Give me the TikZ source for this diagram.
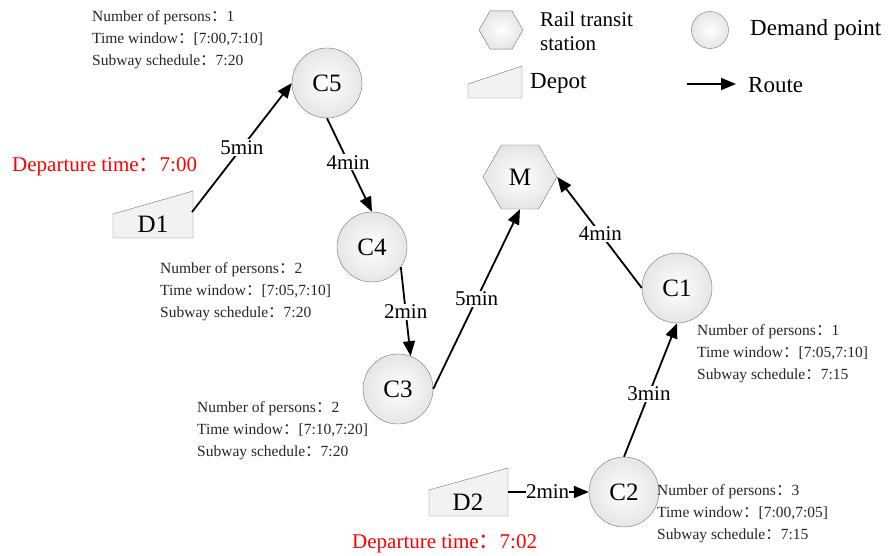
\documentclass[tikz,border=0pt]{standalone}
\usepackage{fontspec}
\setmainfont{Liberation Serif}
\newfontfamily\cjk{Noto Sans CJK SC}
\usetikzlibrary{arrows.meta,shapes.geometric,calc}
\newcommand{\cc}{{\cjk ：}}
\begin{document}
\begin{tikzpicture}[x=1pt,y=-1pt,
  demand/.style={circle,draw=gray!90!black,inner color=white,outer color=gray!20,minimum size=70pt,inner sep=0pt,font=\fontsize{25}{25}\selectfont},
  station/.style={regular polygon,regular polygon sides=6,draw=gray!90!black,inner color=white,outer color=gray!20,minimum size=76pt,inner sep=0pt,font=\fontsize{25}{25}\selectfont},
  depotshape/.style={draw=gray!90!black,fill=gray!10},
  depottext/.style={font=\fontsize{25}{25}\selectfont},
  route/.style={draw=black,line width=1.8pt,-{Triangle[length=15pt,width=12pt]}},
  tlabel/.style={fill=white,inner sep=1pt,font=\fontsize{21}{21}\selectfont},
  info/.style={align=left,anchor=north west,inner sep=0pt,font=\fontsize{15.5}{22}\selectfont,text=black!85},
  dep/.style={anchor=west,inner sep=0pt,text=red,font=\fontsize{21}{21}\selectfont},
  legtext/.style={anchor=west,inner sep=0pt,font=\fontsize{23}{23}\selectfont,align=left}
]
\useasboundingbox (0,0) rectangle (889,556);

% legend
\node[station,minimum size=44pt] (Lh) at (501,30) {};
\node[legtext,font=\fontsize{21}{24}\selectfont] (Lht) at (540,31) {Rail transit\\station};
\node[demand,minimum size=37pt] (Lc) at (710,30) {};
\node[legtext] (Lct) at (750,30) {Demand point};
\path[depotshape] (468,98) -- (522,98) -- (522,66) -- (468,84) -- cycle;
\node[legtext] (Ldt) at (530,83) {Depot};
\coordinate (La1) at (687,84);
\coordinate (La2) at (736,84);
\draw[route] (La1) -- (La2);
\node[legtext] (Lat) at (748,85) {Route};

% demand points
\node[demand] (C5) at (327,83) {C5};
\node[demand] (C4) at (372,247) {C4};
\node[demand] (C3) at (398,389) {C3};
\node[demand] (C1) at (677,288) {C1};
\node[demand] (C2) at (624,492) {C2};
\node[station,minimum size=74pt] (M) at (520,177) {M};

% depots
\path[depotshape] (113,238) -- (193,238) -- (193,191) -- (113,214) -- cycle;
\node[depottext] (D1) at (153,224) {D1};
\path[depotshape] (429,516) -- (508,516) -- (508,468) -- (429,490) -- cycle;
\node[depottext] (D2) at (468,502) {D2};
\coordinate (D1e) at (192,212);
\coordinate (D2e) at (508,492);

% routes
\draw[route] (D1e) -- node[tlabel,pos=0.5] {5min} (C5.west);
\draw[route] (C5.south) -- node[tlabel,pos=0.47] {4min} (C4.north);
\draw[route] (C4.-35) -- node[tlabel,pos=0.5] {2min} (C3.69);
\draw[route] (C3.east) -- node[tlabel,pos=0.5] {5min} (M.south);
\draw[route] (C1.west) -- node[tlabel,pos=0.49] {4min} (M.east);
\draw[route] (C2.north) -- node[tlabel,pos=0.47] {3min} (C1.south);
\draw[route] (D2e) -- node[tlabel,pos=0.49,inner sep=0pt] {2min} (C2.west);

% info texts
\node[info] (I5) at (92,10) {Number of persons\cc 1\\Time window\cc [7:00,7:10]\\Subway schedule\cc 7:20};
\node[info] (I4) at (160,262) {Number of persons\cc 2\\Time window\cc [7:05,7:10]\\Subway schedule\cc 7:20};
\node[info] (I3) at (197,401) {Number of persons\cc 2\\Time window\cc [7:10,7:20]\\Subway schedule\cc 7:20};
\node[info] (I1) at (697,324) {Number of persons\cc 1\\Time window\cc [7:05,7:10]\\Subway schedule\cc 7:15};
\node[info] (I2) at (657,484) {Number of persons\cc 3\\Time window\cc [7:00,7:05]\\Subway schedule\cc 7:15};

\node[dep] (T1) at (12,167) {Departure time\cc 7:00};
\node[dep] (T2) at (352,544) {Departure time\cc 7:02};
\end{tikzpicture}
\end{document}
